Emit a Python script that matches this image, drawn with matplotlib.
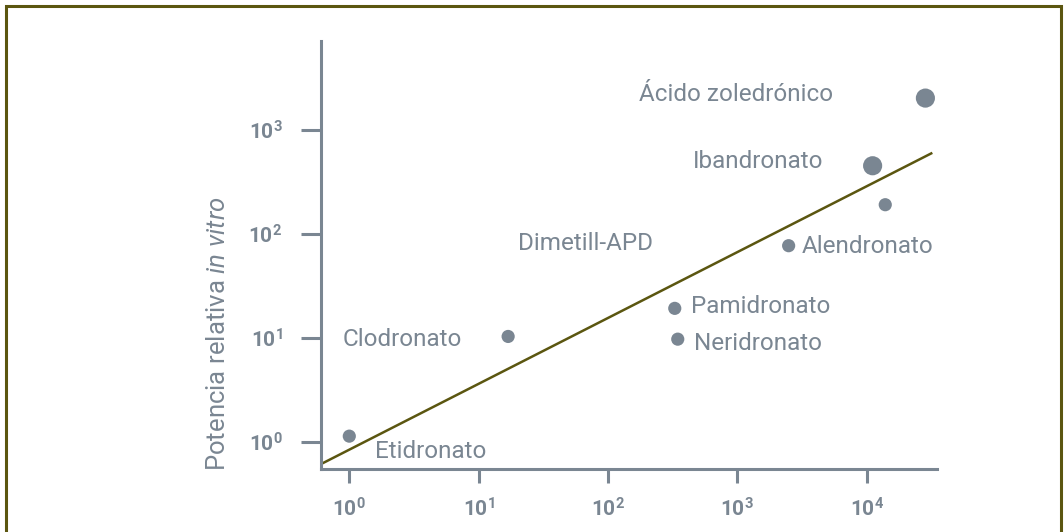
import numpy as np
import matplotlib
matplotlib.use("Agg")
import matplotlib.pyplot as plt
from matplotlib.patches import Rectangle
from matplotlib.ticker import FixedLocator, FixedFormatter, NullLocator

plt.rcParams["font.family"] = ["Roboto", "DejaVu Sans"]
plt.rcParams["mathtext.fontset"] = "custom"
plt.rcParams["mathtext.rm"] = "Roboto"
plt.rcParams["mathtext.it"] = "Roboto:italic"
plt.rcParams["mathtext.bf"] = "Roboto:bold"

# bisphosphonates: potency vs. relative potency in vitro
names = ["Etidronato", "Clodronato", "Pamidronato", "Neridronato",
         "Alendronato", "", "Ibandronato", "Ácido zoledrónico"]
potency_x = [1.0, 16.9, 328, 346, 2490, 13900, 11100, 28400]
potency_y = [1.13, 10.3, 19.2, 9.7, 77, 191, 453, 2030]
big_dot = [False, False, False, False, False, False, True, True]

# label without a plotted point
extra_label = "Dimetill-APD"

# log-log trend: log10(y) = slope*log10(x) + intercept
trend_slope = 0.634
trend_intercept = -0.077

x_ticks = [1, 10, 100, 1000, 10000]
x_ticklabels = [r"$\mathbf{10^{0}}$", r"$\mathbf{10^{1}}$", r"$\mathbf{10^{2}}$",
                r"$\mathbf{10^{3}}$", r"$\mathbf{10^{4}}$"]
y_ticks = [1, 10, 100, 1000]
y_ticklabels = [r"$\mathbf{10^{0}}$", r"$\mathbf{10^{1}}$", r"$\mathbf{10^{2}}$",
                r"$\mathbf{10^{3}}$"]

# text placement (left edge, vertical centre) in data units
label_pos = {
    "Etidronato": (1.58, 0.80),
    "Clodronato": (0.894, 9.6),
    "Pamidronato": (438, 19.8),
    "Neridronato": (462, 8.8),
    "Alendronato": (3160, 75.5),
    "Ibandronato": (454, 495),
    "Ácido zoledrónico": (174, 2220),
    extra_label: (20.2, 80.5),
}

grey = "#7a8692"
olive = "#5b5610"

W, H = 1064, 532
fig = plt.figure(figsize=(W / 100, H / 100), dpi=100)
ax = fig.add_axes([320.7 / W, 1 - 469.3 / H, (937 - 320.7) / W, (469.3 - 41) / H])
ax.set_xscale("log")
ax.set_yscale("log")
ax.set_xlim(10 ** -0.221, 10 ** 4.543)
ax.set_ylim(10 ** -0.266, 10 ** 3.857)

# outer frame, open at the bottom edge
fig.patches.append(Rectangle((5.5 / W, -0.1), (1061 - 5.5) / W, 1.1 - 5.5 / H,
                             transform=fig.transFigure, fill=False,
                             edgecolor=olive, linewidth=2.2))

# trend line from the y axis to just past the last point
lx = np.array([ax.get_xlim()[0], 10 ** 4.507])
ly = 10 ** (trend_slope * np.log10(lx) + trend_intercept)
ax.plot(lx, ly, color=olive, lw=1.8, solid_capstyle="butt", zorder=2, clip_on=False)

sizes = [190 if b else 90 for b in big_dot]
ax.scatter(potency_x, potency_y, s=sizes, color=grey, edgecolor="none", zorder=3, clip_on=False)

for name, (tx, ty) in label_pos.items():
    ax.text(tx, ty, name, color=grey, fontsize=17.5, ha="left", va="center")

for side in ["top", "right"]:
    ax.spines[side].set_visible(False)
for side in ["left", "bottom"]:
    ax.spines[side].set_color(grey)
    ax.spines[side].set_linewidth(2.2)

ax.xaxis.set_major_locator(FixedLocator(x_ticks))
ax.xaxis.set_major_formatter(FixedFormatter(x_ticklabels))
ax.yaxis.set_major_locator(FixedLocator(y_ticks))
ax.yaxis.set_major_formatter(FixedFormatter(y_ticklabels))
ax.xaxis.set_minor_locator(NullLocator())
ax.yaxis.set_minor_locator(NullLocator())
ax.tick_params(axis="x", length=10, width=2.2, color=grey, labelcolor=grey,
               labelsize=15, pad=10)
ax.tick_params(axis="y", length=14.5, width=2.2, color=grey, labelcolor=grey,
               labelsize=15, pad=13)

fig.text(218 / W, 1 - 334 / H, r"Potencia relativa $\mathit{in\ vitro}$",
         rotation=90, ha="center", va="center", color=grey, fontsize=18.5)

fig.savefig("out.png", dpi=100)
